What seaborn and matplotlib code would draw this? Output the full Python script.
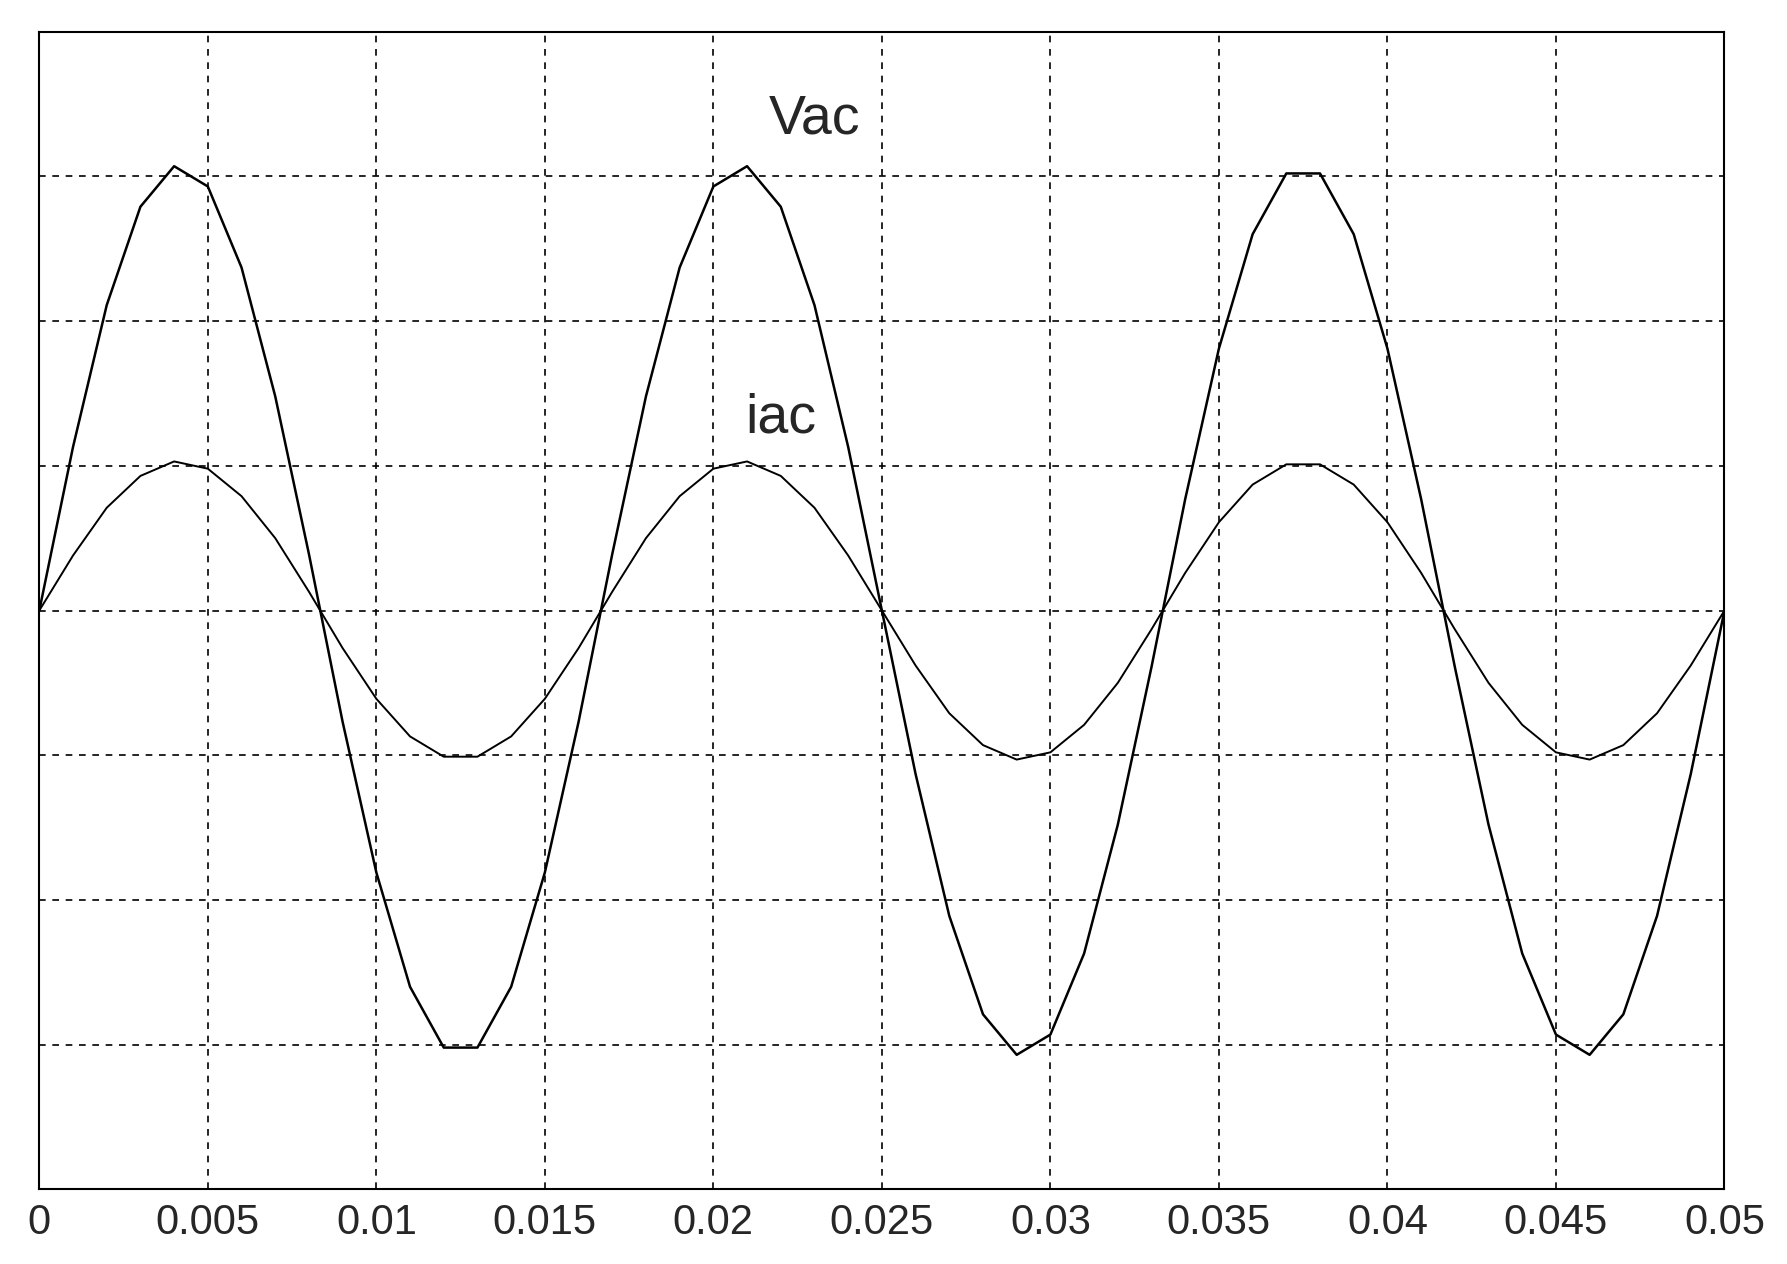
import matplotlib
matplotlib.use("Agg")
import matplotlib.pyplot as plt
import seaborn as sns
import pandas as pd
import numpy as np

t_ms = list(range(0, 51))
vac_half = [0, 1.13, 2.11, 2.79, 3.07, 2.93, 2.37, 1.48, 0.39, -0.77, -1.81, -2.60, -3.02,
            -3.02, -2.60, -1.81, -0.77, 0.39, 1.48, 2.37, 2.93, 3.07, 2.79, 2.11, 1.13]
iac_half = [0, 0.38, 0.71, 0.93, 1.03, 0.98, 0.79, 0.50, 0.13, -0.26, -0.61, -0.87, -1.01,
            -1.01, -0.87, -0.61, -0.26, 0.13, 0.50, 0.79, 0.98, 1.03, 0.93, 0.71, 0.38]
vac = vac_half + [-v for v in vac_half] + [0]
iac = iac_half + [-v for v in iac_half] + [0]
xticks = [0, 0.005, 0.01, 0.015, 0.02, 0.025, 0.03, 0.035, 0.04, 0.045, 0.05]
xticklabels = ["0", "0.005", "0.01", "0.015", "0.02", "0.025", "0.03", "0.035", "0.04", "0.045", "0.05"]

df = pd.DataFrame({"t": [v / 1000 for v in t_ms], "Vac": vac, "iac": iac})

sns.set_style("white")
plt.rcParams["font.family"] = ["Liberation Sans", "DejaVu Sans"]
fig = plt.figure(figsize=(17.87, 12.64), dpi=100)
ax = fig.add_axes([0.022, 0.059, 0.943, 0.916])
sns.lineplot(data=df, x="t", y="Vac", ax=ax, color="black", lw=1.8)
sns.lineplot(data=df, x="t", y="iac", ax=ax, color="black", lw=1.4)
ax.set_xlim(0, 0.05)
ax.set_ylim(-4, 4)
ax.set_xticks(xticks)
ax.set_xticklabels(xticklabels, fontsize=30)
ax.set_yticks([-3, -2, -1, 0, 1, 2, 3])
ax.set_yticklabels([])
ax.tick_params(length=0, pad=10)
ax.grid(True, color="black", ls=(0, (4, 4)), lw=1.2)
ax.set_xlabel("")
ax.set_ylabel("")
for s in ax.spines.values():
    s.set_color("black")
    s.set_linewidth(1.5)
ax.text(0.0230, 3.39, "Vac", fontsize=40, ha="center", va="center")
ax.text(0.0220, 1.33, "iac", fontsize=40, ha="center", va="center")
fig.savefig("out.png", dpi=100)
